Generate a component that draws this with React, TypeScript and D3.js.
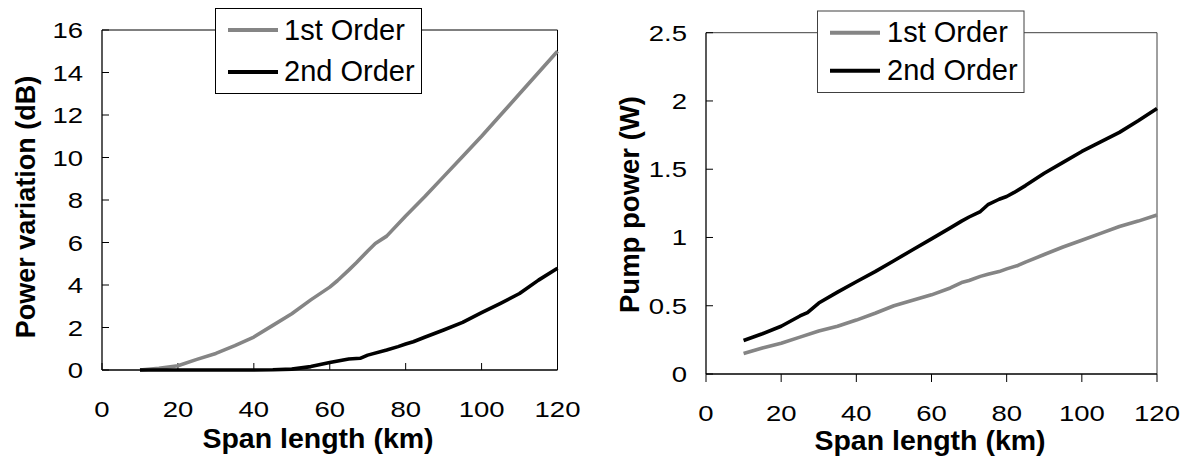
import React from "react";
import * as d3 from "d3";

// ---------- Data ----------
const xTicks = [0, 20, 40, 60, 80, 100, 120];

// Left chart: Power variation (dB)
const leftYTicks = [0, 2, 4, 6, 8, 10, 12, 14, 16];
const left1stX = [10, 15, 20, 25, 30, 35, 40, 45, 50, 55, 60, 62, 65, 67, 70, 72, 75, 80, 85, 90, 95, 100, 105, 110, 115, 120];
const left1stY = [0, 0.08, 0.2, 0.5, 0.78, 1.15, 1.55, 2.1, 2.65, 3.3, 3.9, 4.2, 4.7, 5.05, 5.6, 5.95, 6.3, 7.25, 8.15, 9.1, 10.05, 11.0, 12.0, 13.0, 14.0, 15.0];
const left2ndX = [10, 20, 30, 40, 45, 50, 55, 60, 65, 68, 70, 75, 78, 80, 82, 85, 90, 95, 100, 105, 110, 115, 120];
const left2ndY = [0, 0, 0, 0, 0.01, 0.04, 0.16, 0.35, 0.52, 0.55, 0.7, 0.94, 1.1, 1.22, 1.33, 1.54, 1.88, 2.24, 2.7, 3.14, 3.6, 4.23, 4.79];

// Right chart: Pump power (W)
const rightYTicks = [0, 0.5, 1, 1.5, 2, 2.5];
const rightYTickLabels = ["0", "0.5", "1", "1.5", "2", "2.5"];
const right1stX = [10, 15, 20, 25, 30, 35, 40, 45, 50, 55, 60, 65, 68, 70, 73, 75, 78, 80, 83, 85, 90, 95, 100, 105, 110, 115, 120];
const right1stY = [0.15, 0.19, 0.225, 0.27, 0.315, 0.35, 0.395, 0.445, 0.5, 0.54, 0.58, 0.63, 0.67, 0.685, 0.715, 0.73, 0.75, 0.77, 0.795, 0.82, 0.875, 0.93, 0.98, 1.03, 1.08, 1.12, 1.165];
const right2ndX = [10, 15, 20, 25, 27, 30, 35, 40, 45, 50, 55, 60, 65, 68, 70, 73, 75, 78, 80, 82, 85, 90, 95, 100, 105, 110, 115, 120];
const right2ndY = [0.245, 0.295, 0.35, 0.425, 0.45, 0.52, 0.6, 0.676, 0.75, 0.83, 0.91, 0.99, 1.07, 1.12, 1.15, 1.19, 1.24, 1.28, 1.3, 1.33, 1.38, 1.47, 1.55, 1.63, 1.7, 1.77, 1.855, 1.945];

const seriesNames = ["1st Order", "2nd Order"];
const seriesColors = ["#858585", "#000000"];

type Cfg = {
  left: number; right: number; top: number; bottom: number;
  yMax: number; yTicks: number[]; yLabels: string[];
  xTickInside: boolean;
  frameColor: string;
  yTitle: string; yTitleX: number; yTitleY: number; yTitleSize: number;
  xTitleX: number; xTitleY: number;
  legend: { x0: number; x1: number; y0: number; y1: number; lx0: number; lx1: number; ly: number[]; tx: number; ty: number[] };
  series: { x: number[]; y: number[] }[];
};

const FONT = "'Liberation Sans', Arial, Helvetica, sans-serif";

function Chart({ cfg }: { cfg: Cfg }) {
  const xs = d3.scaleLinear().domain([0, 120]).range([cfg.left, cfg.right]);
  const ys = d3.scaleLinear().domain([0, cfg.yMax]).range([cfg.bottom, cfg.top]);
  const line = d3.line<[number, number]>().x((d) => xs(d[0])).y((d) => ys(d[1]));
  const L = cfg.legend;
  return (
    <g>
      {/* frame top & right */}
      <line x1={cfg.left} x2={cfg.right} y1={cfg.top} y2={cfg.top} stroke={cfg.frameColor} strokeWidth={1} />
      <line x1={cfg.right} x2={cfg.right} y1={cfg.top} y2={cfg.bottom} stroke={cfg.frameColor} strokeWidth={1} />
      {/* axes */}
      <line x1={cfg.left} x2={cfg.left} y1={cfg.top} y2={cfg.bottom} stroke="#000" strokeWidth={1.3} />
      <line x1={cfg.left} x2={cfg.right} y1={cfg.bottom} y2={cfg.bottom} stroke="#000" strokeWidth={1.3} />
      {/* y ticks */}
      {cfg.yTicks.map((t, i) => (
        <g key={"y" + i}>
          <line x1={cfg.left} x2={cfg.left + 7} y1={ys(t)} y2={ys(t)} stroke="#000" strokeWidth={1} />
          <text
            transform={`translate(${cfg.left - 19},${ys(t) + 8}) scale(1.25,1)`}
            textAnchor="end"
            fontFamily={FONT}
            fontSize={22}
            fill="#000"
          >
            {cfg.yLabels[i]}
          </text>
        </g>
      ))}
      {/* x ticks */}
      {xTicks.map((t, i) => (
        <g key={"x" + i}>
          <line
            x1={xs(t)}
            x2={xs(t)}
            y1={cfg.bottom}
            y2={cfg.xTickInside ? cfg.bottom - 7 : cfg.bottom + 8}
            stroke="#000"
            strokeWidth={1}
          />
          <text
            transform={`translate(${xs(t)},${cfg.bottom + 47}) scale(1.25,1)`}
            textAnchor="middle"
            fontFamily={FONT}
            fontSize={22}
            fill="#000"
          >
            {String(t)}
          </text>
        </g>
      ))}
      {/* series */}
      {cfg.series.map((s, i) => (
        <path
          key={"s" + i}
          d={line(s.x.map((xv, j) => [xv, s.y[j]] as [number, number])) || ""}
          fill="none"
          stroke={seriesColors[i]}
          strokeWidth={3.6}
          strokeLinejoin="round"
        />
      ))}
      {/* legend */}
      <rect x={L.x0} y={L.y0} width={L.x1 - L.x0} height={L.y1 - L.y0} fill="#fff" stroke={cfg.frameColor} strokeWidth={1} />
      {seriesNames.map((n, i) => (
        <g key={"l" + i}>
          <line x1={L.lx0} x2={L.lx1} y1={L.ly[i]} y2={L.ly[i]} stroke={seriesColors[i]} strokeWidth={4} />
          <text x={L.tx} y={L.ty[i]} fontFamily={FONT} fontSize={29} fill="#000">
            {n}
          </text>
        </g>
      ))}
      {/* titles */}
      <text
        transform={`translate(${cfg.yTitleX},${cfg.yTitleY}) rotate(-90)`}
        textAnchor="middle"
        fontFamily={FONT}
        fontWeight="bold"
        fontSize={cfg.yTitleSize}
        fill="#000"
      >
        {cfg.yTitle}
      </text>
      <text x={cfg.xTitleX} y={cfg.xTitleY} textAnchor="middle" fontFamily={FONT} fontWeight="bold" fontSize={28.5} fill="#000">
        Span length (km)
      </text>
    </g>
  );
}

export default function App() {
  const leftCfg: Cfg = {
    left: 102, right: 557.5, top: 30, bottom: 370,
    yMax: 16, yTicks: leftYTicks, yLabels: leftYTicks.map(String),
    xTickInside: true, frameColor: "#000",
    yTitle: "Power variation (dB)", yTitleX: 35, yTitleY: 207, yTitleSize: 27,
    xTitleX: 318, xTitleY: 448,
    legend: { x0: 215.5, x1: 421.5, y0: 8.5, y1: 93.5, lx0: 228, lx1: 278, ly: [30, 72], tx: 284, ty: [40, 81] },
    series: [
      { x: left1stX, y: left1stY },
      { x: left2ndX, y: left2ndY },
    ],
  };
  const rightCfg: Cfg = {
    left: 706, right: 1157, top: 32.7, bottom: 374,
    yMax: 2.5, yTicks: rightYTicks, yLabels: rightYTickLabels,
    xTickInside: false, frameColor: "#404040",
    yTitle: "Pump power (W)", yTitleX: 639, yTitleY: 204.5, yTitleSize: 27.5,
    xTitleX: 930, xTitleY: 450,
    legend: { x0: 817.5, x1: 1024, y0: 11, y1: 92.5, lx0: 830, lx1: 880, ly: [32.7, 70.7], tx: 887, ty: [41.7, 80] },
    series: [
      { x: right1stX, y: right1stY },
      { x: right2ndX, y: right2ndY },
    ],
  };
  return (
    <svg width={1196} height={456} style={{ position: "absolute", left: 0, top: 0, background: "#fff" }}>
      <rect x={0} y={0} width={1196} height={456} fill="#fff" />
      <Chart cfg={leftCfg} />
      <Chart cfg={rightCfg} />
    </svg>
  );
}
